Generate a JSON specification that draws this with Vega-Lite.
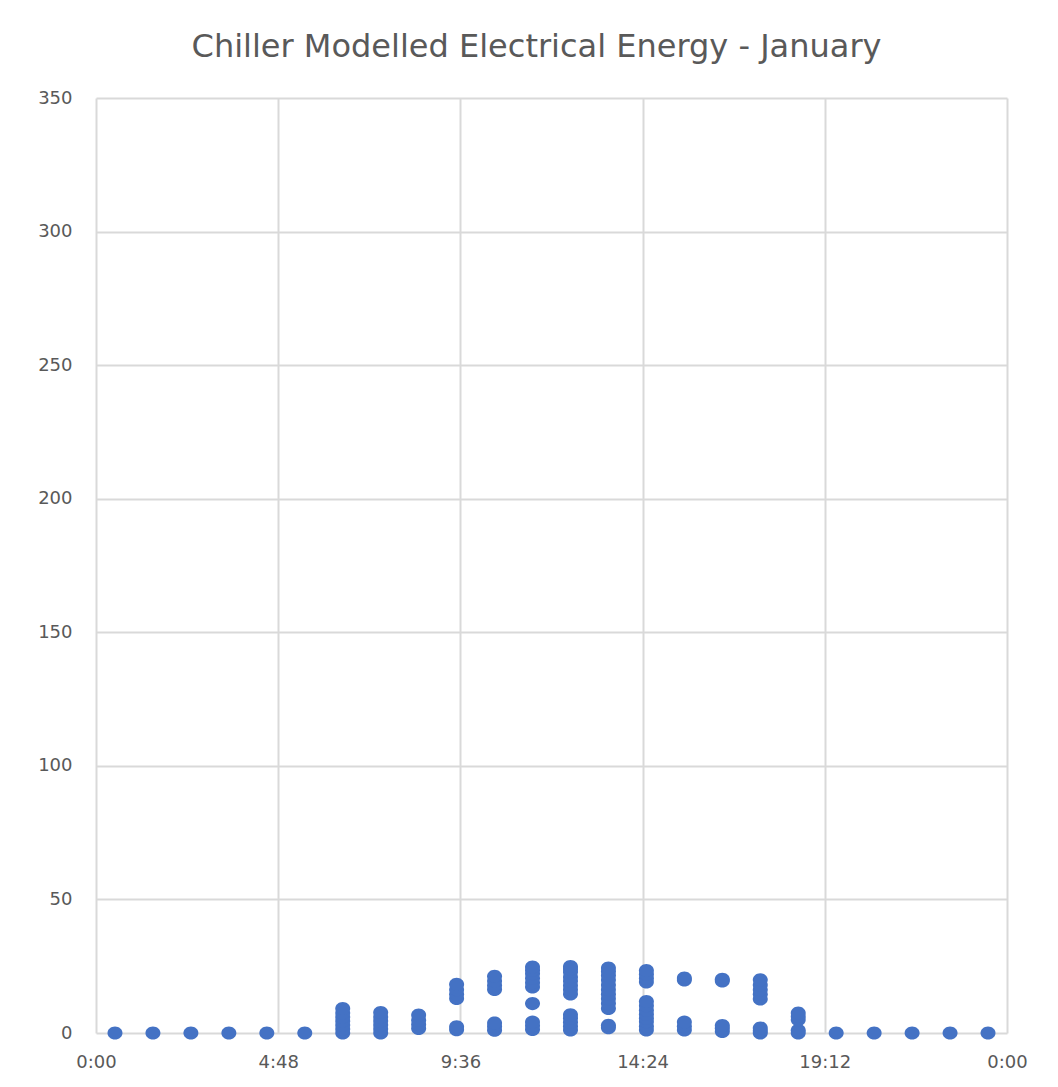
{
  "$schema": "https://vega.github.io/schema/vega-lite/v6.json",
  "autosize": {"type": "none"},
  "width": 911,
  "height": 935,
  "padding": {"left": 96, "top": 98, "right": 51, "bottom": 54},
  "background": "white",
  "title": {
    "text": "Chiller Modelled Electrical Energy - January",
    "font": "DejaVu Sans",
    "fontSize": 32,
    "fontWeight": "normal",
    "color": "#595959",
    "anchor": "middle",
    "dx": -15,
    "offset": 25
  },
  "data": {
    "values": [
      {"time": 0.5, "energy": 0},
      {"time": 1.5, "energy": 0},
      {"time": 2.5, "energy": 0},
      {"time": 3.5, "energy": 0},
      {"time": 4.5, "energy": 0},
      {"time": 5.5, "energy": 0},
      {"time": 6.5, "energy": 0},
      {"time": 6.5, "energy": 1.5},
      {"time": 6.5, "energy": 3.0},
      {"time": 6.5, "energy": 4.5},
      {"time": 6.5, "energy": 6.0},
      {"time": 6.5, "energy": 7.5},
      {"time": 6.5, "energy": 9.2},
      {"time": 7.5, "energy": 0},
      {"time": 7.5, "energy": 1.5},
      {"time": 7.5, "energy": 3.0},
      {"time": 7.5, "energy": 4.5},
      {"time": 7.5, "energy": 6.0},
      {"time": 7.5, "energy": 7.7},
      {"time": 8.5, "energy": 1.7},
      {"time": 8.5, "energy": 3.2},
      {"time": 8.5, "energy": 4.8},
      {"time": 8.5, "energy": 6.7},
      {"time": 9.5, "energy": 1.2},
      {"time": 9.5, "energy": 2.3},
      {"time": 9.5, "energy": 12.9},
      {"time": 9.5, "energy": 14.5},
      {"time": 9.5, "energy": 16.2},
      {"time": 9.5, "energy": 18.2},
      {"time": 10.5, "energy": 1.0},
      {"time": 10.5, "energy": 2.4},
      {"time": 10.5, "energy": 3.7},
      {"time": 10.5, "energy": 16.3},
      {"time": 10.5, "energy": 17.8},
      {"time": 10.5, "energy": 19.5},
      {"time": 10.5, "energy": 21.2},
      {"time": 11.5, "energy": 1.3},
      {"time": 11.5, "energy": 2.7},
      {"time": 11.5, "energy": 4.1},
      {"time": 11.5, "energy": 11.0},
      {"time": 11.5, "energy": 17.2},
      {"time": 11.5, "energy": 18.8},
      {"time": 11.5, "energy": 20.5},
      {"time": 11.5, "energy": 22.2},
      {"time": 11.5, "energy": 23.5},
      {"time": 11.5, "energy": 24.7},
      {"time": 12.5, "energy": 1.1},
      {"time": 12.5, "energy": 2.5},
      {"time": 12.5, "energy": 4.0},
      {"time": 12.5, "energy": 5.5},
      {"time": 12.5, "energy": 6.8},
      {"time": 12.5, "energy": 14.6},
      {"time": 12.5, "energy": 16.2},
      {"time": 12.5, "energy": 17.8},
      {"time": 12.5, "energy": 19.5},
      {"time": 12.5, "energy": 21.0},
      {"time": 12.5, "energy": 22.8},
      {"time": 12.5, "energy": 24.0},
      {"time": 12.5, "energy": 24.9},
      {"time": 13.5, "energy": 2.0},
      {"time": 13.5, "energy": 2.9},
      {"time": 13.5, "energy": 9.2},
      {"time": 13.5, "energy": 11.0},
      {"time": 13.5, "energy": 12.8},
      {"time": 13.5, "energy": 14.5},
      {"time": 13.5, "energy": 16.2},
      {"time": 13.5, "energy": 18.0},
      {"time": 13.5, "energy": 19.8},
      {"time": 13.5, "energy": 21.5},
      {"time": 13.5, "energy": 23.0},
      {"time": 13.5, "energy": 24.3},
      {"time": 14.5, "energy": 1.1},
      {"time": 14.5, "energy": 2.5},
      {"time": 14.5, "energy": 4.2},
      {"time": 14.5, "energy": 5.5},
      {"time": 14.5, "energy": 7.0},
      {"time": 14.5, "energy": 8.5},
      {"time": 14.5, "energy": 10.2},
      {"time": 14.5, "energy": 11.8},
      {"time": 14.5, "energy": 19.1},
      {"time": 14.5, "energy": 20.5},
      {"time": 14.5, "energy": 22.0},
      {"time": 14.5, "energy": 23.4},
      {"time": 15.5, "energy": 1.1},
      {"time": 15.5, "energy": 2.5},
      {"time": 15.5, "energy": 4.1},
      {"time": 15.5, "energy": 19.8},
      {"time": 15.5, "energy": 20.6},
      {"time": 16.5, "energy": 0.6},
      {"time": 16.5, "energy": 1.8},
      {"time": 16.5, "energy": 2.8},
      {"time": 16.5, "energy": 19.5},
      {"time": 16.5, "energy": 20.1},
      {"time": 17.5, "energy": 0},
      {"time": 17.5, "energy": 0.8},
      {"time": 17.5, "energy": 1.9},
      {"time": 17.5, "energy": 12.7},
      {"time": 17.5, "energy": 14.5},
      {"time": 17.5, "energy": 16.2},
      {"time": 17.5, "energy": 18.0},
      {"time": 17.5, "energy": 19.9},
      {"time": 18.5, "energy": 0},
      {"time": 18.5, "energy": 1.0},
      {"time": 18.5, "energy": 5.0},
      {"time": 18.5, "energy": 6.2},
      {"time": 18.5, "energy": 7.5},
      {"time": 19.5, "energy": 0},
      {"time": 20.5, "energy": 0},
      {"time": 21.5, "energy": 0},
      {"time": 22.5, "energy": 0},
      {"time": 23.5, "energy": 0}
    ]
  },
  "mark": {
    "type": "point",
    "shape": "M -1.15 0 A 1.15 1 0 1 0 1.15 0 A 1.15 1 0 1 0 -1.15 0 Z",
    "filled": true,
    "size": 170,
    "opacity": 1,
    "color": "#4472c4"
  },
  "encoding": {
    "x": {
      "field": "time",
      "type": "quantitative",
      "scale": {"domain": [0, 24], "nice": false, "zero": false},
      "axis": {
        "title": null,
        "values": [0, 4.8, 9.6, 14.4, 19.2, 24],
        "labelExpr": "datum.value >= 24 ? '0:00' : floor(datum.value) + ':' + (round((datum.value % 1) * 60) < 10 ? '0' : '') + round((datum.value % 1) * 60)",
        "ticks": false,
        "domain": false,
        "grid": true,
        "gridColor": "#d9d9d9",
        "gridWidth": 2,
        "labelFont": "DejaVu Sans",
        "labelFontSize": 18,
        "labelColor": "#595959",
        "labelPadding": 20,
        "labelFlush": false
      }
    },
    "y": {
      "field": "energy",
      "type": "quantitative",
      "scale": {"domain": [0, 350], "nice": false},
      "axis": {
        "title": null,
        "values": [0, 50, 100, 150, 200, 250, 300, 350],
        "ticks": false,
        "domain": false,
        "grid": true,
        "gridColor": "#d9d9d9",
        "gridWidth": 2,
        "labelFont": "DejaVu Sans",
        "labelFontSize": 18,
        "labelColor": "#595959",
        "labelPadding": 24
      }
    }
  },
  "config": {"view": {"stroke": null}}
}
